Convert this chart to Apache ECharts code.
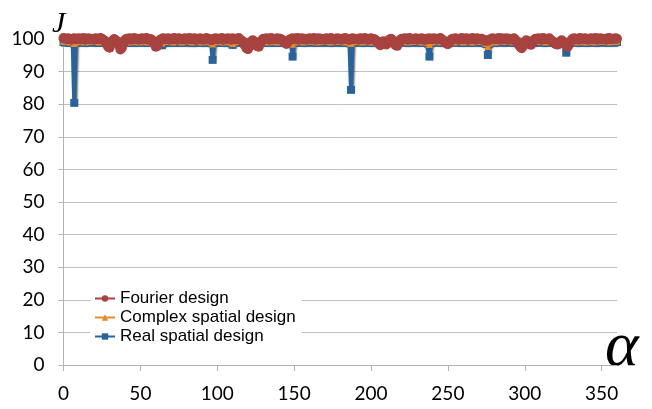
<!DOCTYPE html>
<html>
<head>
<meta charset="utf-8">
<script src="https://cdn.jsdelivr.net/npm/echarts@6/dist/echarts.min.js"></script>
<style>
  html, body { margin: 0; padding: 0; background: #fff; }
  #chart { width: 652px; height: 409px; }
</style>
</head>
<body>
<div id="chart"></div>
<script>
// J versus alpha (one point per degree, 0..360)
const seriesNames = ['Fourier design', 'Complex spatial design', 'Real spatial design'];
const xTicks = [0, 50, 100, 150, 200, 250, 300, 350];
const yTicks = [0, 10, 20, 30, 40, 50, 60, 70, 80, 90, 100];

// Fourier design
const jFourier = [
  100.3, 100.1, 99.9, 100.2, 100.0, 99.8, 100.1, 100.2, 99.9, 100.0,
  100.2, 99.9, 100.1, 100.3, 99.8, 100.0, 100.2, 99.9, 100.1, 100.0,
  99.8, 100.2, 100.0, 99.9, 100.3, 100.1, 99.7, 99.4, 98.5, 97.6,
  97.3, 98.6, 99.5, 100.0, 99.6, 99.2, 98.2, 96.8, 97.3, 98.8,
  99.7, 100.1, 99.9, 100.2, 99.8, 100.0, 100.3, 99.9, 100.1, 99.8,
  100.0, 100.2, 99.9, 100.1, 100.3, 99.8, 100.0, 99.9, 99.5, 98.6,
  97.6, 97.9, 99.0, 99.8, 100.1, 100.2, 99.9, 100.0, 100.2, 99.8,
  100.1, 99.9, 100.3, 100.0, 99.8, 100.2, 100.1, 99.9, 100.0, 100.2,
  99.8, 100.1, 100.3, 99.9, 100.0, 100.2, 99.7, 100.1, 99.9, 100.2,
  100.0, 99.8, 100.1, 100.3, 99.9, 100.0, 99.6, 99.8, 100.1, 100.2,
  99.9, 100.1, 100.0, 100.3, 99.8, 100.1, 99.9, 100.2, 100.0, 99.8,
  100.2, 100.0, 99.9, 100.1, 100.3, 99.8, 99.5, 99.0, 98.0, 97.2,
  96.9, 97.8, 99.0, 99.6, 99.3, 98.6, 97.8, 97.6, 98.7, 99.6,
  100.1, 99.9, 100.2, 100.0, 99.8, 100.3, 100.1, 99.9, 100.0, 100.2,
  99.9, 100.1, 99.8, 99.4, 98.9, 98.5, 99.2, 99.8, 100.0, 100.2,
  99.9, 100.1, 100.3, 99.8, 100.0, 100.2, 99.9, 100.1, 99.8, 100.0,
  100.2, 99.9, 100.1, 100.3, 99.8, 100.0, 100.2, 99.9, 100.1, 100.0,
  99.8, 100.2, 100.0, 99.9, 100.3, 100.1, 99.8, 100.0, 100.2, 99.9,
  100.1, 99.8, 100.0, 100.3, 99.9, 100.1, 99.7, 100.0, 100.2, 99.9,
  100.1, 100.0, 99.8, 100.2, 100.1, 99.9, 100.3, 100.0, 99.8, 100.1,
  100.2, 99.9, 100.0, 99.7, 99.2, 98.6, 98.1, 98.5, 99.3, 99.0,
  98.3, 99.0, 99.8, 100.1, 99.6, 98.9, 98.1, 97.9, 98.8, 99.7,
  100.1, 99.9, 100.2, 100.0, 99.8, 100.3, 100.1, 99.9, 100.0, 100.2,
  99.8, 100.1, 99.9, 100.2, 100.0, 99.7, 100.1, 99.9, 100.2, 100.0,
  99.9, 100.2, 100.0, 99.8, 100.1, 100.3, 99.9, 99.6, 99.1, 98.6,
  98.4, 99.0, 99.7, 100.1, 99.9, 100.2, 100.0, 99.8, 100.1, 100.3,
  99.9, 100.0, 100.2, 99.8, 100.1, 99.9, 100.3, 100.0, 99.8, 100.2,
  100.0, 99.9, 100.1, 99.7, 99.5, 99.6, 99.4, 99.7, 100.0, 100.2,
  99.9, 100.1, 100.0, 100.3, 99.8, 100.2, 99.9, 100.0, 100.2, 99.8,
  100.1, 100.0, 99.8, 100.2, 99.7, 99.1, 98.3, 97.6, 97.2, 98.0,
  99.0, 99.6, 99.2, 98.5, 98.2, 98.9, 99.7, 100.1, 99.9, 100.2,
  100.0, 99.8, 100.3, 100.1, 99.9, 100.0, 100.2, 99.7, 99.3, 98.9,
  98.5, 98.3, 98.4, 99.1, 99.6, 99.2, 98.6, 98.0, 97.6, 98.4,
  99.4, 100.0, 100.2, 99.9, 100.1, 99.8, 100.3, 100.0, 99.9, 100.2,
  100.1, 99.8, 100.0, 100.2, 99.9, 100.1, 100.3, 99.8, 100.0, 100.2,
  99.9, 100.1, 100.0, 99.8, 100.2, 100.3, 99.9, 100.1, 100.0, 100.2,
  100.1
];

// Complex spatial design
const jComplex = [
  99.4, 99.2, 99.5, 99.3, 99.1, 99.4, 99.2, 98.6, 99.1, 99.5,
  99.3, 99.2, 99.4, 99.5, 99.1, 99.3, 99.4, 99.2, 99.5, 99.3,
  99.2, 99.4, 99.3, 99.1, 99.5, 99.3, 99.2, 99.4, 99.3, 99.1,
  99.4, 99.3, 99.2, 99.5, 99.3, 99.1, 99.4, 99.2, 99.3, 99.5,
  99.2, 99.3, 99.4, 99.1, 99.3, 99.5, 99.2, 99.4, 99.3, 99.1,
  99.5, 99.3, 99.2, 99.4, 99.3, 99.1, 99.4, 99.5, 99.2, 99.3,
  99.4, 99.2, 99.3, 99.1, 98.8, 99.2, 99.3, 99.5, 99.2, 99.4,
  99.3, 99.1, 99.4, 99.3, 99.2, 99.5, 99.3, 99.1, 99.4, 99.3,
  99.2, 99.5, 99.3, 99.4, 99.1, 99.3, 99.2, 99.4, 99.5, 99.3,
  99.1, 99.4, 99.3, 99.2, 99.5, 99.3, 99.0, 98.5, 99.1, 99.4,
  99.3, 99.2, 99.5, 99.3, 99.1, 99.4, 99.3, 99.2, 99.4, 99.0,
  98.6, 99.1, 99.4, 99.3, 99.2, 99.5, 99.3, 99.1, 99.4, 99.3,
  99.2, 99.4, 99.3, 99.5, 99.1, 99.3, 99.4, 99.2, 99.3, 99.5,
  99.2, 99.3, 99.4, 99.1, 99.3, 99.5, 99.2, 99.4, 99.3, 99.1,
  99.4, 99.3, 99.2, 99.5, 99.3, 99.1, 99.4, 99.2, 99.0, 98.4,
  99.1, 99.4, 99.3, 99.2, 99.5, 99.3, 99.1, 99.4, 99.3, 99.2,
  99.5, 99.3, 99.2, 99.4, 99.3, 99.1, 99.4, 99.5, 99.2, 99.3,
  99.4, 99.2, 99.3, 99.5, 99.1, 99.3, 99.4, 99.2, 99.3, 99.5,
  99.2, 99.3, 99.4, 99.1, 99.3, 99.5, 99.0, 98.6, 99.1, 99.4,
  99.3, 99.2, 99.5, 99.3, 99.1, 99.4, 99.3, 99.2, 99.4, 99.3,
  99.1, 99.4, 99.3, 99.2, 99.5, 99.3, 99.1, 99.4, 99.3, 99.2,
  99.5, 99.3, 99.2, 99.4, 99.3, 99.1, 99.4, 99.5, 99.2, 99.3,
  99.4, 99.2, 99.3, 99.5, 99.1, 99.3, 99.4, 99.2, 99.3, 99.5,
  99.2, 99.3, 99.4, 99.1, 99.3, 99.5, 99.2, 98.9, 98.3, 99.0,
  99.3, 99.4, 99.2, 99.5, 99.3, 99.1, 99.4, 99.3, 99.2, 99.5,
  99.3, 99.2, 99.4, 99.3, 99.1, 99.5, 99.3, 99.2, 99.4, 99.3,
  99.1, 99.4, 99.3, 99.2, 99.5, 99.3, 99.1, 99.4, 99.3, 99.2,
  99.5, 99.3, 99.2, 99.4, 99.0, 98.6, 97.7, 98.7, 99.2, 99.4,
  99.3, 99.1, 99.4, 99.5, 99.2, 99.3, 99.4, 99.2, 99.3, 99.5,
  99.2, 99.3, 99.4, 99.1, 99.3, 99.5, 99.2, 99.4, 99.3, 99.1,
  99.4, 99.3, 99.2, 99.5, 99.3, 99.1, 99.4, 99.2, 99.3, 99.5,
  99.2, 99.3, 99.4, 99.1, 99.3, 99.5, 99.2, 99.4, 99.3, 99.1,
  99.4, 99.3, 99.2, 99.5, 99.3, 99.1, 98.9, 98.2, 99.0, 99.3,
  99.4, 99.2, 99.5, 99.3, 99.1, 99.4, 99.3, 99.2, 99.4, 99.3,
  99.1, 99.4, 99.3, 99.2, 99.5, 99.3, 99.1, 99.4, 99.3, 99.2,
  99.5, 99.3, 99.2, 99.4, 99.3, 99.1, 99.4, 99.5, 99.2, 99.3,
  99.4
];

// Real spatial design
const jReal = [
  99.1, 98.9, 99.2, 99.0, 98.8, 99.1, 98.9, 80.4, 98.8, 99.2,
  99.0, 98.9, 99.1, 99.2, 98.8, 99.0, 99.1, 98.9, 99.2, 99.0,
  98.9, 99.1, 99.0, 98.8, 99.2, 99.0, 98.9, 99.1, 99.0, 98.8,
  99.1, 99.0, 98.9, 99.2, 99.0, 98.8, 99.1, 98.9, 99.0, 99.2,
  98.9, 99.0, 99.1, 98.8, 99.0, 99.2, 98.9, 99.1, 99.0, 98.8,
  99.2, 99.0, 98.9, 99.1, 99.0, 98.8, 99.1, 99.2, 98.9, 99.0,
  99.1, 98.9, 99.0, 98.6, 98.1, 98.7, 99.0, 99.2, 98.9, 99.1,
  99.0, 98.8, 99.1, 99.0, 98.9, 99.2, 99.0, 98.8, 99.1, 99.0,
  98.9, 99.2, 99.0, 99.1, 98.8, 99.0, 98.9, 99.1, 99.2, 99.0,
  98.8, 99.1, 99.0, 98.9, 99.2, 99.0, 98.7, 93.6, 98.8, 99.1,
  99.0, 98.9, 99.2, 99.0, 98.8, 99.1, 99.0, 98.9, 99.1, 98.7,
  98.2, 98.8, 99.1, 99.0, 98.9, 99.2, 99.0, 98.8, 99.1, 99.0,
  98.9, 99.1, 99.0, 99.2, 98.8, 99.0, 99.1, 98.9, 99.0, 99.2,
  98.9, 99.0, 99.1, 98.8, 99.0, 99.2, 98.9, 99.1, 99.0, 98.8,
  99.1, 99.0, 98.9, 99.2, 99.0, 98.8, 99.1, 98.9, 98.7, 94.6,
  98.8, 99.1, 99.0, 98.9, 99.2, 99.0, 98.8, 99.1, 99.0, 98.9,
  99.2, 99.0, 98.9, 99.1, 99.0, 98.8, 99.1, 99.2, 98.9, 99.0,
  99.1, 98.9, 99.0, 99.2, 98.8, 99.0, 99.1, 98.9, 99.0, 99.2,
  98.9, 99.0, 99.1, 98.8, 99.0, 99.2, 98.7, 84.4, 98.8, 99.1,
  99.0, 98.9, 99.2, 99.0, 98.8, 99.1, 99.0, 98.9, 99.1, 99.0,
  98.8, 99.1, 99.0, 98.9, 99.2, 99.0, 98.8, 99.1, 99.0, 98.9,
  99.2, 99.0, 98.9, 99.1, 99.0, 98.8, 99.1, 99.2, 98.9, 99.0,
  99.1, 98.9, 99.0, 99.2, 98.8, 99.0, 99.1, 98.9, 99.0, 99.2,
  98.9, 99.0, 99.1, 98.8, 99.0, 99.2, 98.9, 98.6, 94.6, 98.7,
  99.0, 99.1, 98.9, 99.2, 99.0, 98.8, 99.1, 99.0, 98.9, 99.2,
  99.0, 98.9, 99.1, 99.0, 98.8, 99.2, 99.0, 98.9, 99.1, 99.0,
  98.8, 99.1, 99.0, 98.9, 99.2, 99.0, 98.8, 99.1, 99.0, 98.9,
  99.2, 99.0, 98.9, 99.1, 98.7, 98.4, 95.1, 98.5, 98.9, 99.1,
  99.0, 98.8, 99.1, 99.2, 98.9, 99.0, 99.1, 98.9, 99.0, 99.2,
  98.9, 99.0, 99.1, 98.8, 99.0, 99.2, 98.9, 99.1, 99.0, 98.8,
  99.1, 99.0, 98.9, 99.2, 99.0, 98.8, 99.1, 98.9, 99.0, 99.2,
  98.9, 99.0, 99.1, 98.8, 99.0, 99.2, 98.9, 99.1, 99.0, 98.8,
  99.1, 99.0, 98.9, 99.2, 99.0, 98.8, 98.6, 95.8, 98.7, 99.0,
  99.1, 98.9, 99.2, 99.0, 98.8, 99.1, 99.0, 98.9, 99.1, 99.0,
  98.8, 99.1, 99.0, 98.9, 99.2, 99.0, 98.8, 99.1, 99.0, 98.9,
  99.2, 99.0, 98.9, 99.1, 99.0, 98.8, 99.1, 99.2, 98.9, 99.0,
  99.1
];

// alpha in degrees, one sample per index
const toPairs = (vals) => vals.map((v, i) => [i, v]);

const chart = echarts.init(document.getElementById('chart'), null, { renderer: 'canvas' });

const lineShadow = {
  shadowColor: 'rgba(0,0,0,0.6)',
  shadowBlur: 2,
  shadowOffsetX: 1,
  shadowOffsetY: 2
};

const makeSeries = (name, vals, color, symbol, size, width) => ({
  name: name,
  type: 'line',
  data: toPairs(vals),
  symbol: symbol,
  symbolSize: size,
  showSymbol: true,
  showAllSymbol: true,
  clip: false,
  color: color,
  itemStyle: { color: color },
  lineStyle: Object.assign({ color: color, width: width }, lineShadow),
  emphasis: { disabled: true }
});

const option = {
  animation: false,
  backgroundColor: '#fff',
  grid: { left: 63.5, right: 35, top: 39, bottom: 44 },
  legend: {
    data: seriesNames,
    orient: 'vertical',
    left: 90,
    top: 288,
    backgroundColor: '#fff',
    padding: [2, 6, 2, 4],
    itemWidth: 20,
    itemHeight: 8,
    itemGap: 2,
    textStyle: { fontFamily: 'Liberation Sans', fontSize: 17, lineHeight: 16, color: '#000' }
  },
  xAxis: {
    type: 'value',
    min: 0,
    max: 360,
    interval: 50,
    axisLine: { show: true, lineStyle: { color: '#b3b3b3', width: 1 } },
    axisTick: { show: true, length: 6, customValues: xTicks, lineStyle: { color: '#b3b3b3' } },
    axisLabel: {
      customValues: xTicks,
      margin: 19,
      fontFamily: 'Lato',
      fontSize: 19,
      color: '#000'
    },
    splitLine: { show: false }
  },
  yAxis: {
    type: 'value',
    min: 0,
    max: 100,
    interval: 10,
    axisLine: { show: true, lineStyle: { color: '#b3b3b3', width: 1 } },
    axisTick: { show: true, length: 5, lineStyle: { color: '#b3b3b3' } },
    axisLabel: {
      customValues: yTicks,
      margin: 19,
      fontFamily: 'Lato',
      fontSize: 19,
      color: '#000'
    },
    splitLine: { show: true, lineStyle: { color: '#bfbfbf', width: 1 } }
  },
  graphic: [
    {
      type: 'text',
      left: 52,
      top: 9,
      style: { text: 'J', font: 'italic 30px "Liberation Serif"', fill: '#000' }
    },
    {
      type: 'text',
      left: 605,
      top: 316,
      style: { text: 'α', font: 'italic 64px "Liberation Serif"', fill: '#000' }
    }
  ],
  series: [
    makeSeries('Real spatial design', jReal, '#2A6399', 'rect', 8, 4),
    makeSeries('Complex spatial design', jComplex, '#E8892A', 'triangle', 7, 3),
    makeSeries('Fourier design', jFourier, '#A8433F', 'circle', 10, 4)
  ]
};

chart.setOption(option);
</script>
</body>
</html>
